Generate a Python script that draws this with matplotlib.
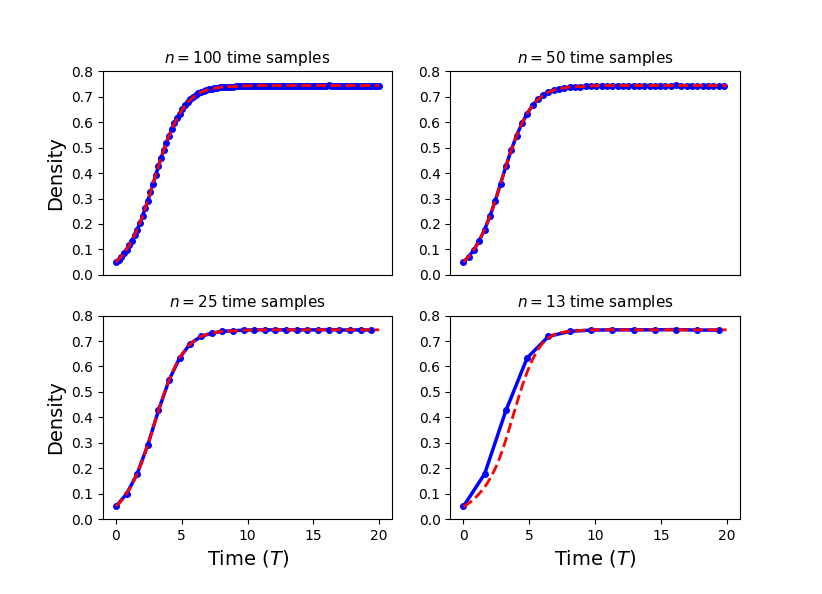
import numpy as np
import matplotlib
matplotlib.use("Agg")
import matplotlib.pyplot as plt

# Observed density at 100 equally spaced times in [0, 20]
density_obs = [
    0.050, 0.060, 0.072, 0.085, 0.099, 0.116, 0.135, 0.156, 0.178, 0.203,
    0.231, 0.261, 0.292, 0.325, 0.359, 0.393, 0.427, 0.460, 0.491, 0.520,
    0.547, 0.572, 0.595, 0.616, 0.634, 0.651, 0.666, 0.679, 0.690, 0.699,
    0.706, 0.713, 0.718, 0.722, 0.726, 0.729, 0.731, 0.733, 0.735, 0.737,
    0.738, 0.739, 0.739, 0.740, 0.740, 0.741, 0.742, 0.742, 0.743, 0.743,
    0.744, 0.744, 0.744, 0.744, 0.744, 0.744, 0.744, 0.744, 0.744, 0.744,
    0.744, 0.744, 0.744, 0.744, 0.744, 0.744, 0.744, 0.744, 0.744, 0.744,
    0.744, 0.744, 0.744, 0.744, 0.744, 0.744, 0.744, 0.744, 0.744, 0.744,
    0.745, 0.744, 0.744, 0.744, 0.744, 0.744, 0.744, 0.744, 0.743, 0.744,
    0.744, 0.744, 0.744, 0.744, 0.744, 0.744, 0.743, 0.744, 0.744, 0.744,
]
t_end = 20.0

# Model curve fitted with many samples (grid step 0.5 from 0 to 20)
model_fine = [
    0.050, 0.078, 0.115, 0.165, 0.228, 0.304, 0.388, 0.470, 0.542, 0.601,
    0.647, 0.681, 0.704, 0.719, 0.728, 0.733, 0.738, 0.739, 0.740, 0.742,
    0.743, 0.744, 0.744, 0.744, 0.744, 0.744, 0.744, 0.744, 0.744, 0.744,
    0.744, 0.744, 0.744, 0.744, 0.744, 0.744, 0.744, 0.744, 0.744, 0.744,
    0.744,
]

# Model curve fitted with 13 samples
model_coarse_t = [
    0.0, 0.25, 0.5, 0.75, 1.0, 1.25, 1.5, 1.75, 2.0, 2.25, 2.5, 2.75,
    3.0, 3.25, 3.5, 3.75, 4.0, 4.25, 4.5, 4.75, 5.0, 5.25, 5.5, 5.75,
    6.0, 6.25, 6.5, 6.75, 7.0, 7.5, 8.0, 9.0, 10.0, 12.0, 14.0, 16.0,
    18.0, 20.0,
]
model_coarse = [
    0.049, 0.057, 0.066, 0.077, 0.089, 0.103, 0.118, 0.136, 0.157, 0.181,
    0.208, 0.240, 0.276, 0.316, 0.359, 0.402, 0.445, 0.488, 0.528, 0.565,
    0.598, 0.627, 0.652, 0.673, 0.690, 0.703, 0.713, 0.721, 0.727, 0.734,
    0.738, 0.742, 0.744, 0.744, 0.744, 0.744, 0.744, 0.744,
]

sample_counts = [100, 50, 25, 13]
subsample_steps = [1, 2, 4, 8]
yticks = [0.0, 0.1, 0.2, 0.3, 0.4, 0.5, 0.6, 0.7, 0.8]
xticks = [0, 5, 10, 15, 20]

t_obs = np.linspace(0, t_end, len(density_obs))
t_fine = np.linspace(0, t_end, len(model_fine))
obs = np.array(density_obs)

fig, axes = plt.subplots(2, 2, figsize=(8.22, 5.94), dpi=100)
plt.subplots_adjust(left=0.125, right=0.9, top=0.88, bottom=0.126,
                    wspace=0.2, hspace=0.2)

for k, ax in enumerate(axes.flat):
    step = subsample_steps[k]
    n = sample_counts[k]
    ax.plot(t_obs[::step], obs[::step], "o-", color="blue", lw=2.5, ms=4)
    if n == 13:
        ax.plot(model_coarse_t, model_coarse, "--", color="red", lw=2)
    else:
        ax.plot(t_fine, model_fine, "--", color="red", lw=2)
    ax.set_ylim(0, 0.8)
    ax.set_yticks(yticks)
    ax.set_xlim(-1, 21)
    ax.set_title(f"$n = {n}$ time samples", fontsize=11)
    if k < 2:
        ax.set_xticks([])
    else:
        ax.set_xticks(xticks)
        ax.set_xlabel("Time ($T$)", fontsize=14)
    if k % 2 == 0:
        ax.set_ylabel("Density", fontsize=14)

fig.savefig("out.png", dpi=100)
